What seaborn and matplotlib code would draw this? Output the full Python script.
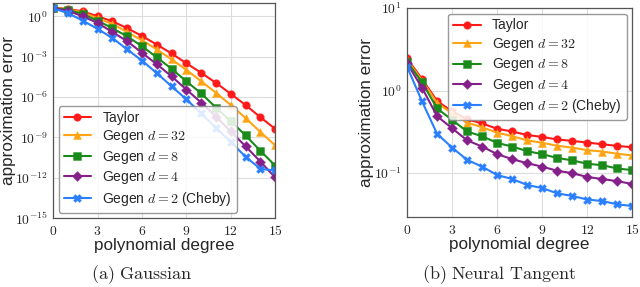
import numpy as np
import pandas as pd
import matplotlib
matplotlib.use('Agg')
import matplotlib.pyplot as plt
import matplotlib.ticker as mticker
import seaborn as sns

# degrees on the x axis
degree = list(range(16))

# (a) Gaussian as log10 of the error
gauss_taylor = [0.65, 0.55, 0.37, 0.0, -0.37, -0.88, -1.46, -2.1, -2.76, -3.49, -4.2, -4.95, -5.76, -6.6, -7.5, -8.37]
gauss_d32 = [0.65, 0.52, 0.29, -0.15, -0.56, -1.17, -1.78, -2.46, -3.2, -3.98, -4.83, -5.68, -6.6, -7.56, -8.6, -9.6]
gauss_d8 = [0.63, 0.49, 0.17, -0.32, -0.88, -1.49, -2.22, -3.05, -3.9, -4.83, -5.73, -6.78, -7.8, -8.85, -10.0, -11.1]
gauss_d4 = [0.62, 0.41, 0.0, -0.49, -1.17, -1.85, -2.71, -3.56, -4.46, -5.44, -6.41, -7.46, -8.56, -9.66, -10.8, -11.98]
gauss_d2 = [0.6, 0.24, -0.32, -0.93, -1.61, -2.46, -3.29, -4.22, -5.2, -6.17, -7.22, -8.29, -9.34, -10.44, -11.34, -11.46]

# (b) Neural Tangent, plain error values
ntk_taylor = [2.45, 1.38, 0.75, 0.56, 0.45, 0.40, 0.345, 0.32, 0.29, 0.275, 0.256, 0.246, 0.235, 0.224, 0.214, 0.206]
ntk_d32 = [2.35, 1.32, 0.71, 0.53, 0.41, 0.36, 0.31, 0.28, 0.25, 0.233, 0.215, 0.204, 0.19, 0.183, 0.172, 0.164]
ntk_d8 = [2.25, 1.26, 0.61, 0.44, 0.32, 0.28, 0.233, 0.21, 0.185, 0.17, 0.153, 0.143, 0.13, 0.125, 0.114, 0.109]
ntk_d4 = [2.15, 1.08, 0.49, 0.35, 0.25, 0.21, 0.17, 0.148, 0.132, 0.12, 0.107, 0.1, 0.09, 0.085, 0.08, 0.074]
ntk_d2 = [1.95, 0.74, 0.30, 0.204, 0.145, 0.12, 0.095, 0.085, 0.072, 0.066, 0.057, 0.053, 0.048, 0.046, 0.042, 0.040]

labels = ['Taylor', r'Gegen $d = 32$', r'Gegen $d = 8$', r'Gegen $d = 4$', r'Gegen $d = 2$ (Cheby)']
colors = ['#ff1a1a', '#ffa515', '#1a8a1a', '#85208a', '#2a7fff']
markers = ['o', '^', 's', 'D', 'X']

sns.set_style('whitegrid')
plt.rcParams['font.family'] = ['Liberation Sans', 'DejaVu Sans']
plt.rcParams['mathtext.fontset'] = 'cm'


def long_df(series):
    rows = []
    for lab, vals in zip(labels, series):
        for x, v in zip(degree, vals):
            rows.append({'degree': x, 'error': v, 'method': lab})
    return pd.DataFrame(rows)


df_a = long_df([[10 ** v for v in s] for s in [gauss_taylor, gauss_d32, gauss_d8, gauss_d4, gauss_d2]])
df_b = long_df([ntk_taylor, ntk_d32, ntk_d8, ntk_d4, ntk_d2])

fig = plt.figure(figsize=(6.4, 2.87), dpi=100)
ax_a = fig.add_axes([0.083, 0.240, 0.347, 0.750])
ax_b = fig.add_axes([0.636, 0.244, 0.352, 0.728])

palette = dict(zip(labels, colors))
mk = dict(zip(labels, markers))

pow_fmt = mticker.FuncFormatter(lambda v, p: r'$10^{%d}$' % round(np.log10(v)))
int_fmt = mticker.FuncFormatter(lambda v, p: r'$%d$' % v)

for ax, df in [(ax_a, df_a), (ax_b, df_b)]:
    sns.lineplot(data=df, x='degree', y='error', hue='method', style='method',
                 palette=palette, markers=mk, dashes=False, markersize=5.5,
                 markeredgewidth=0.6, linewidth=1.5, ax=ax)
    ax.set_yscale('log')
    ax.set_xlim(0, 15)
    ax.set_xticks([0, 3, 6, 9, 12, 15])
    ax.xaxis.set_major_formatter(int_fmt)
    ax.set_xlabel('polynomial degree', fontsize=12.3, labelpad=0)
    ax.set_ylabel('approximation error', fontsize=12.3, labelpad=0)
    ax.tick_params(axis='both', labelsize=9.8, pad=1.5, length=2.5, width=0.6, direction='out')
    ax.grid(True, color='#dddddd', linewidth=0.8)
    for s in ax.spines.values():
        s.set_color('#555555')
        s.set_linewidth(0.9)
    # lighten marker edges like the reference
    for line in ax.get_lines():
        c = line.get_color()
        line.set_markeredgecolor(matplotlib.colors.to_rgba(c, 0.45))

ax_a.set_ylim(1e-15, 1e1)
ax_a.set_yticks([1e0, 1e-3, 1e-6, 1e-9, 1e-12, 1e-15])
ax_a.yaxis.set_major_formatter(pow_fmt)
ax_a.yaxis.set_minor_locator(mticker.NullLocator())
ax_a.yaxis.set_label_coords(-0.165, 0.5)

ax_b.set_ylim(0.0295, 1e1)
ax_b.set_yticks([1e-1, 1e0, 1e1])
ax_b.yaxis.set_major_formatter(pow_fmt)
ax_b.yaxis.set_minor_locator(mticker.LogLocator(base=10, subs=np.arange(2, 10)))
ax_b.yaxis.set_minor_formatter(mticker.NullFormatter())
ax_b.tick_params(axis='y', which='minor', length=1.5, width=0.5)
ax_b.yaxis.set_label_coords(-0.145, 0.5)

leg_a = ax_a.legend(loc='lower left', fontsize=10, handlelength=2.0, labelspacing=0.25,
                    borderaxespad=0.4, borderpad=0.35, frameon=True, fancybox=True, title=None)
leg_b = ax_b.legend(loc='upper right', fontsize=10, handlelength=2.0, labelspacing=0.25,
                    borderaxespad=0.4, borderpad=0.35, frameon=True, fancybox=True, title=None)
for leg in (leg_a, leg_b):
    leg.get_frame().set_edgecolor('#888888')
    leg.get_frame().set_alpha(0.85)

fig.text(0.222, 0.042, r'$\mathrm{(a)\ Gaussian}$', ha='center', va='center', fontsize=13)
fig.text(0.780, 0.042, r'$\mathrm{(b)\ Neural\ Tangent}$', ha='center', va='center', fontsize=13)

fig.savefig('out.png', dpi=100)
